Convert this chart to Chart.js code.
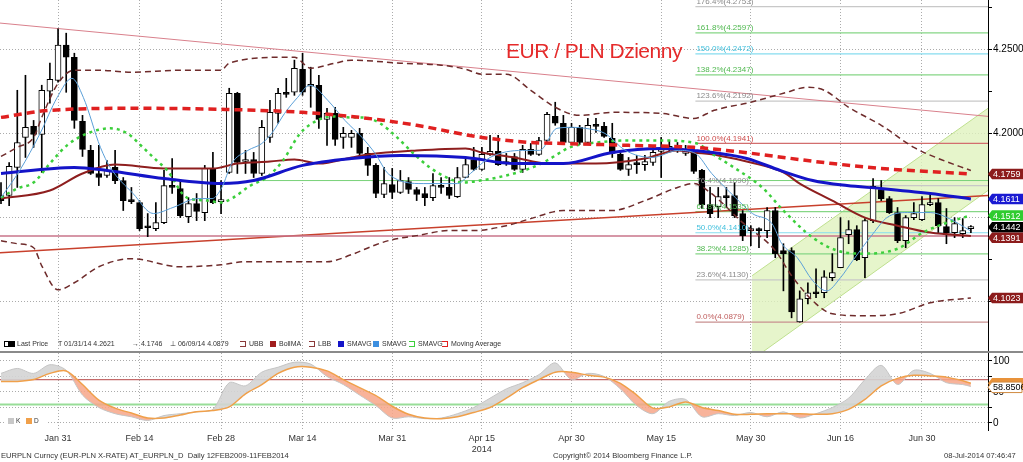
<!DOCTYPE html>
<html>
<head>
<meta charset="utf-8">
<script src="https://cdn.jsdelivr.net/npm/chart.js@4.4.1/dist/chart.umd.min.js"></script>
<style>
  body { margin: 0; background: #fff; width: 1023px; height: 462px; overflow: hidden; position: relative; font-family: 'Liberation Sans', Arial, sans-serif; }
  canvas { position: absolute; left: 0; }
  #main { top: 0; }
  #stoch { top: 353px; }
  .t { position: absolute; white-space: nowrap; }
  .sq { position: absolute; width: 6px; height: 6px; top: 4px; }
  #legend { position: absolute; left: 0; top: 337px; width: 1023px; height: 15px; font-size: 7px; color: #333; }
  #legend .t { top: 3px; }
  #sep { position: absolute; left: 0; top: 351px; width: 1023px; height: 2px; background: #8a8a8a; }
  #title { position: absolute; left: 506px; top: 40px; font-size: 21px; letter-spacing: -0.5px; color: #e52a2a; line-height: 21px; }
  #footer .t { top: 451px; font-size: 7.6px; color: #333; }
  #kd { position: absolute; left: 4px; top: 416px; height: 10px; width: 44px; background: #fff; font-size: 6.5px; color: #333; }
</style>
</head>
<body>
<canvas id="main" width="1023" height="352"></canvas>
<canvas id="stoch" width="1023" height="109"></canvas>
<div id="title">EUR / PLN Dzienny</div>
<div id="legend">
  <span class="sq" style="left:4px;border:1px solid #000;width:3px;height:4px;background:#fff"></span>
  <span class="sq" style="left:9px;background:#000"></span>
  <span class="t" style="left:17px">Last Price</span>
  <span class="t" style="left:58px">T 01/31/14 4.2621</span>
  <span class="t" style="left:132px">&#8594; 4.1746</span>
  <span class="t" style="left:170px">&#8869; 06/09/14 4.0879</span>
  <span class="sq" style="left:240px;width:5px;height:4px;border:1px dashed #8b3a3a;border-left:none"></span>
  <span class="t" style="left:249px">UBB</span>
  <span class="sq" style="left:270px;background:#a01c1c"></span>
  <span class="t" style="left:279px">BollMA</span>
  <span class="sq" style="left:309px;width:5px;height:4px;border:1px dashed #8b3a3a;border-left:none"></span>
  <span class="t" style="left:318px">LBB</span>
  <span class="sq" style="left:338px;background:#1414c8"></span>
  <span class="t" style="left:347px">SMAVG</span>
  <span class="sq" style="left:373px;background:#3d8fe0"></span>
  <span class="t" style="left:382px">SMAVG</span>
  <span class="sq" style="left:409px;width:5px;height:4px;border:1px dashed #3ccf3c;border-left:none"></span>
  <span class="t" style="left:418px">SMAVG</span>
  <span class="sq" style="left:442px;width:5px;height:4px;border:1px dashed #e02020;border-left:none"></span>
  <span class="t" style="left:451px">Moving Average</span>
</div>
<div id="sep"></div>
<div id="kd">
  <span class="sq" style="left:4px;top:2px;background:#c8c8c8"></span><span class="t" style="left:12px;top:1px">K</span>
  <span class="sq" style="left:22px;top:2px;background:#f0a04a"></span><span class="t" style="left:30px;top:1px">D</span>
</div>
<div id="footer">
  <span class="t" style="left:1px">EURPLN Curncy (EUR-PLN X-RATE) AT_EURPLN_D&nbsp; Daily 12FEB2009-11FEB2014</span>
  <span class="t" style="left:553px">Copyright&copy; 2014 Bloomberg Finance L.P.</span>
  <span class="t" style="left:944px">08-Jul-2014 07:46:47</span>
</div>
<script>
// trading-day index 0 = 22 Jan 2014 ... 119 = 8 Jul 2014
const tickIdx = [7, 17, 27, 37, 48, 59, 70, 81, 92, 103, 113];
const tickLabels = ['Jan 31', 'Feb 14', 'Feb 28', 'Mar 14', 'Mar 31', ['Apr 15', '2014'], 'Apr 30', 'May 15', 'May 30', 'Jun 16', 'Jun 30'];

const open = [4.1631,4.1631,4.1798,4.1976,4.2042,4.1994,4.2250,4.2315,4.2524,4.2452,
  4.2071,4.1899,4.1762,4.1750,4.1798,4.1720,4.1605,4.1589,4.1447,4.1435,
  4.1470,4.1690,4.1673,4.1506,4.1583,4.1530,4.1792,4.1595,4.1768,4.2238,
  4.1833,4.1845,4.1762,4.1976,4.2119,4.2240,4.2244,4.2381,4.2280,4.2286,
  4.2083,4.2119,4.1976,4.1976,4.2000,4.1881,4.1810,4.1637,4.1696,4.1649,
  4.1714,4.1667,4.1643,4.1619,4.1690,4.1679,4.1625,4.1738,4.1845,4.1786,
  4.1875,4.1893,4.1827,4.1863,4.1786,4.1905,4.1875,4.1958,4.2101,4.2060,
  4.1946,4.2036,4.1946,4.2048,4.2042,4.1970,4.1875,4.1786,4.1821,4.1815,
  4.1827,4.1893,4.1911,4.1911,4.1881,4.1887,4.1780,4.1577,4.1565,4.1625,
  4.1631,4.1524,4.1423,4.1429,4.1423,4.1542,4.1304,4.1304,4.0881,4.1018,
  4.1054,4.1054,4.1143,4.1202,4.1399,4.1429,4.1262,4.1482,4.1667,4.1613,
  4.1530,4.1363,4.1500,4.1488,4.1577,4.1589,4.1446,4.1411,4.1405,4.1435];
const high = [4.1708,4.1827,4.2256,4.2345,4.2077,4.2286,4.2417,4.2621,4.2595,4.2476,
  4.2107,4.1929,4.1929,4.1839,4.1899,4.1738,4.1679,4.1601,4.1524,4.1589,
  4.1780,4.1851,4.1720,4.1619,4.1643,4.1810,4.1887,4.1720,4.2268,4.2244,
  4.1899,4.1887,4.2077,4.2196,4.2268,4.2327,4.2435,4.2476,4.2393,4.2345,
  4.2149,4.2155,4.2036,4.2018,4.2030,4.1917,4.1821,4.1798,4.1792,4.1780,
  4.1738,4.1679,4.1679,4.1762,4.1738,4.1738,4.1798,4.1857,4.1917,4.1917,
  4.1988,4.1988,4.1881,4.1881,4.1929,4.1940,4.1976,4.2125,4.2185,4.2107,
  4.2060,4.2048,4.2089,4.2089,4.2065,4.2060,4.1887,4.1857,4.1869,4.1869,
  4.1917,4.1976,4.1958,4.1946,4.1929,4.1911,4.1786,4.1679,4.1679,4.1679,
  4.1708,4.1542,4.1452,4.1440,4.1560,4.1560,4.1345,4.1321,4.1065,4.1113,
  4.1196,4.1185,4.1286,4.1500,4.1482,4.1452,4.1494,4.1732,4.1720,4.1625,
  4.1560,4.1512,4.1589,4.1625,4.1637,4.1613,4.1554,4.1500,4.1494,4.1452];
const low = [4.1583,4.1571,4.1679,4.1857,4.1917,4.1768,4.2179,4.2304,4.2244,4.2030,
  4.1863,4.1756,4.1690,4.1738,4.1702,4.1542,4.1583,4.1423,4.1387,4.1423,
  4.1464,4.1643,4.1500,4.1470,4.1482,4.1482,4.1583,4.1524,4.1762,4.1762,
  4.1762,4.1738,4.1750,4.1946,4.2060,4.2214,4.2226,4.2226,4.2155,4.2030,
  4.1929,4.1929,4.1911,4.1917,4.1857,4.1750,4.1619,4.1619,4.1613,4.1643,
  4.1643,4.1601,4.1571,4.1601,4.1643,4.1613,4.1619,4.1738,4.1780,4.1780,
  4.1869,4.1810,4.1810,4.1780,4.1768,4.1869,4.1869,4.1940,4.2048,4.1940,
  4.1940,4.1934,4.1934,4.2006,4.1976,4.1857,4.1780,4.1750,4.1762,4.1780,
  4.1810,4.1738,4.1887,4.1887,4.1869,4.1762,4.1554,4.1500,4.1500,4.1560,
  4.1500,4.1363,4.1333,4.1321,4.1381,4.1262,4.1065,4.0905,4.0879,4.0988,
  4.1024,4.1024,4.1125,4.1202,4.1345,4.1244,4.1143,4.1470,4.1601,4.1524,
  4.1351,4.1321,4.1488,4.1482,4.1571,4.1411,4.1345,4.1381,4.1381,4.1411];
const close = [4.1601,4.1804,4.1946,4.2036,4.1994,4.2256,4.2321,4.2524,4.2452,4.2077,
  4.1905,4.1762,4.1738,4.1780,4.1720,4.1601,4.1595,4.1435,4.1440,4.1470,
  4.1690,4.1679,4.1512,4.1583,4.1536,4.1792,4.1589,4.1601,4.2238,4.1827,
  4.1839,4.1762,4.2036,4.2125,4.2238,4.2232,4.2387,4.2244,4.2286,4.2083,
  4.2119,4.1964,4.2000,4.2000,4.1881,4.1810,4.1643,4.1702,4.1649,4.1720,
  4.1667,4.1637,4.1619,4.1690,4.1679,4.1631,4.1738,4.1815,4.1786,4.1875,
  4.1893,4.1815,4.1821,4.1786,4.1905,4.1875,4.1958,4.2113,4.2060,4.1946,
  4.2036,4.1946,4.2048,4.2042,4.1982,4.1881,4.1786,4.1815,4.1815,4.1833,
  4.1887,4.1911,4.1917,4.1899,4.1899,4.1774,4.1577,4.1524,4.1625,4.1619,
  4.1512,4.1393,4.1429,4.1423,4.1542,4.1286,4.1286,4.0940,4.1018,4.1054,
  4.1048,4.1149,4.1173,4.1381,4.1429,4.1250,4.1482,4.1685,4.1613,4.1530,
  4.1363,4.1500,4.1524,4.1577,4.1589,4.1452,4.1411,4.1464,4.1423,4.1442];

// studies, read at sample days
const movAvgIdx = [0, 6, 17, 27, 37, 44, 51, 59, 65, 69, 77, 85, 89, 102, 108, 119];
const movAvgVal = [4.2095, 4.2137, 4.2149, 4.2143, 4.2125, 4.2095, 4.2048, 4.1976, 4.1946, 4.1940, 4.1929, 4.1917, 4.1899, 4.1821, 4.1792, 4.1759];
const smaSlowIdx = [0, 9, 13, 20, 27, 31, 37, 43, 49, 57, 63, 69, 75, 81, 85, 91.5, 95.6, 99.6, 103.8, 107.9, 114, 119];
const smaSlowVal = [4.1762, 4.1798, 4.1780, 4.1732, 4.1702, 4.1720, 4.1810, 4.1851, 4.1869, 4.1857, 4.1821, 4.1821, 4.1887, 4.1911, 4.1899, 4.1851, 4.1780, 4.1720, 4.1690, 4.1673, 4.1643, 4.1611];
const bollMaIdx = [0, 6, 10, 14, 20, 26, 29, 33, 36, 39, 43, 45, 51, 57, 59, 63, 67, 73, 79, 83, 85, 88, 92, 96, 98, 102, 106, 110, 114, 119];
const bollMaVal = [4.1613, 4.1661, 4.1762, 4.1815, 4.1792, 4.1792, 4.1821, 4.1833, 4.1845, 4.1821, 4.1857, 4.1875, 4.1899, 4.1911, 4.1887, 4.1857, 4.1821, 4.1821, 4.1851, 4.1899, 4.1887, 4.1869, 4.1827, 4.1768, 4.1702, 4.1601, 4.1500, 4.1452, 4.1411, 4.1391];
const ubbIdx = [0, 2, 4, 5, 7, 9, 12, 16, 22, 27, 28, 35, 36, 38, 41, 43, 49, 54, 57, 59, 62, 65, 68, 71, 75, 81, 85, 87.5, 92, 96, 99, 101, 104, 108, 112, 115, 119];
const ubbVal = [4.1863, 4.1917, 4.1976, 4.2095, 4.2298, 4.2375, 4.2375, 4.2363, 4.2375, 4.2375, 4.2417, 4.2452, 4.2452, 4.2387, 4.2417, 4.2435, 4.2417, 4.2405, 4.2381, 4.2351, 4.2351, 4.2256, 4.2155, 4.2107, 4.2125, 4.2119, 4.2089, 4.2137, 4.2185, 4.2238, 4.2274, 4.2256, 4.2155, 4.2048, 4.1917, 4.1851, 4.1780];
const lbbIdx = [0, 2, 4, 5, 7, 9, 12, 16, 22, 27, 30, 35, 40, 43, 46, 48, 51, 55, 58, 62, 65, 69, 75, 79, 83, 85, 87, 91, 95, 97, 100, 102, 106, 110, 114, 119];
const lbbVal = [4.1363, 4.1345, 4.1321, 4.1214, 4.1071, 4.1113, 4.1208, 4.1256, 4.1208, 4.1220, 4.1238, 4.1238, 4.1238, 4.1280, 4.1339, 4.1369, 4.1393, 4.1423, 4.1423, 4.1452, 4.1494, 4.1542, 4.1542, 4.1601, 4.1679, 4.1702, 4.1649, 4.1470, 4.1304, 4.1155, 4.0988, 4.0929, 4.0917, 4.0929, 4.0994, 4.1023];
const smaFastIdx = [0, 2.3, 4.8, 6.9, 8.7, 10.1, 12.2, 13.4, 16.2, 18.7, 21.1, 24.1, 25.9, 27.1, 28.3, 30.3, 32, 33.3, 34.8, 36.4, 37.9, 40.1, 42.2, 44.3, 45.9, 47.6, 51.8, 56, 57.6, 60, 64, 66.1, 68.2, 70.2, 71.7, 74.1, 76.6, 79.9, 83.1, 85.2, 87.2, 90.1, 92.2, 94.6, 95.8, 97.7, 99.6, 101.3, 103, 104.5, 107, 108.7, 111.2, 114, 116.1, 118.9];
const smaFastVal = [4.1619, 4.1780, 4.2000, 4.2214, 4.2327, 4.2214, 4.1917, 4.1798, 4.1643, 4.1524, 4.1560, 4.1613, 4.1613, 4.1679, 4.1821, 4.1899, 4.1940, 4.2006, 4.2119, 4.2214, 4.2286, 4.2196, 4.2077, 4.1976, 4.1881, 4.1756, 4.1702, 4.1702, 4.1762, 4.1857, 4.1899, 4.1899, 4.2030, 4.2036, 4.2030, 4.2000, 4.1899, 4.1857, 4.1899, 4.1881, 4.1762, 4.1619, 4.1524, 4.1464, 4.1345, 4.1262, 4.1125, 4.1065, 4.1143, 4.1244, 4.1405, 4.1500, 4.1530, 4.1530, 4.1500, 4.1423];
const smaMidIdx = [0, 2, 4, 6, 8.1, 10.6, 13.4, 15.5, 17.4, 19.1, 20.4, 22.8, 25.3, 26.9, 28.5, 30.6, 32.6, 34.6, 36.7, 38.8, 40.7, 42.8, 44.4, 46.5, 48.6, 50.6, 52.6, 54.7, 56.7, 58.8, 60.9, 64.9, 67, 69.8, 73.1, 77.2, 81.2, 85.4, 87.2, 90.1, 93.4, 96, 99.6, 102.6, 105.8, 110, 113.1, 116.1, 118.9];
const smaMidVal = [4.1619, 4.1673, 4.1708, 4.1821, 4.1929, 4.2000, 4.2030, 4.2000, 4.1917, 4.1839, 4.1780, 4.1619, 4.1601, 4.1589, 4.1619, 4.1690, 4.1738, 4.1839, 4.2000, 4.2077, 4.2101, 4.2095, 4.2095, 4.2060, 4.1976, 4.1881, 4.1798, 4.1738, 4.1708, 4.1720, 4.1738, 4.1792, 4.1839, 4.1917, 4.1946, 4.1958, 4.1958, 4.1940, 4.1881, 4.1792, 4.1679, 4.1542, 4.1381, 4.1304, 4.1286, 4.1315, 4.1411, 4.1470, 4.1512];

// drawn lines and the channel, in [day index, price]
const trendDown = [[-0.123, 4.2655], [121.1, 4.2101]];
const trendUp = [[-0.123, 4.1292], [121.1, 4.1631]];
const support = [[-0.123, 4.1391], [121.1, 4.1391]];
const resist = [[31, 4.1720], [121.1, 4.1720]];
const channel = [[92.15, 4.0702], [92.15, 4.1155], [121.1, 4.2149], [121.1, 4.1661], [93.45, 4.0702]];
const channelTop = [[92.15, 4.1155], [121.1, 4.2149]];
const channelBottom = [[93.45, 4.0702], [121.1, 4.1661]];

const fibStart = 85.2;
const fibLevels = [4.0879, 4.1130, 4.1285, 4.1410, 4.1535, 4.1690, 4.1941, 4.2192, 4.2347, 4.2472, 4.2597, 4.2753];
const fibLabels = ['0.0%(4.0879)', '23.6%(4.1130)', '38.2%(4.1285)', '50.0%(4.1410)', '61.8%(4.1535)', '76.4%(4.1690)',
  '100.0%(4.1941)', '123.6%(4.2192)', '138.2%(4.2347)', '150.0%(4.2472)', '161.8%(4.2597)', '176.4%(4.2753)'];

// stochastic
const stochIdx = [0,2,4,6,8,10,12,14,16,18,20,22,24,26,28,30,32,34,36,38,40,42,44,46,48,50,52,54,56,58,
  60,62,64,66,68,70,72,74,76,78,80,82,84,86,88,90,92,94,96,98,100,102,104,106,108,110,112,114,116,118,119];
const stochK = [80,88,80,94,85,45,25,15,10,4,12,15,18,22,65,60,82,90,98,95,75,62,45,28,8,10,7,8,15,25,
  40,55,65,78,97,70,80,75,55,28,15,35,38,10,15,12,17,10,18,8,15,25,40,70,93,62,85,80,65,62,58.8506];
const stochD = [67,67,70,80,84,62,37,24,16,8,8,13,18,20,26,47,62,80,90,90,84,70,57,44,27,14,8,7,10,17,
  25,40,57,70,82,82,77,74,64,45,24,26,34,25,20,14,14,15,15,15,14,15,22,38,60,72,77,76,74,68,64];

// styles
const fibLine = ['#c89090', '#c8c8c8', '#86d686', '#86dcef', '#86d686', '#c8c8c8', '#d26e6e', '#c8c8c8', '#86d686', '#86dcef', '#86d686', '#c8c8c8'];
const fibText = ['#c06060', '#8a8a8a', '#4fb84f', '#3fbfdc', '#4fb84f', '#8a8a8a', '#cc4a4a', '#8a8a8a', '#4fb84f', '#3fbfdc', '#4fb84f', '#8a8a8a'];

const xMin = -0.123, xMax = 121.1;
Chart.defaults.font.family = "'Liberation Sans', Arial, sans-serif";
Chart.defaults.animation = false;

const pts = (xs, ys) => xs.map((x, k) => ({ x, y: ys[k] }));
const pairs = arr => arr.map(p => ({ x: p[0], y: p[1] }));

function line(data, color, width, dash, order, extra) {
    return Object.assign({
        type: 'line', data, borderColor: color, borderWidth: width, borderDash: dash || [],
        pointRadius: 0, fill: false, tension: 0, order
    }, extra || {});
}
const smooth = { cubicInterpolationMode: 'monotone' };

function noPad(s) {
    s.paddingTop = 0; s.paddingBottom = 0; s.paddingLeft = 0; s.paddingRight = 0;
}

function xAxis(showLabels) {
    return {
        type: 'linear', min: xMin, max: xMax, offset: false,
        afterBuildTicks: s => { s.ticks = tickIdx.map(v => ({ value: v })); },
        afterFit: s => { s.height = showLabels ? 32 : 0; noPad(s); },
        grid: { color: '#ababab', drawTicks: false, offset: false },
        border: { display: false, dash: [1, 2] },
        ticks: {
            display: showLabels, autoSkip: false, maxRotation: 0, padding: 3, color: '#333',
            font: { size: 9 }, callback: v => tickLabels[tickIdx.indexOf(v)]
        }
    };
}

function tag(ctx, tip, right, cy, h, bg, fg, border, text) {
    const top = cy - h / 2;
    ctx.beginPath();
    ctx.moveTo(tip, cy);
    ctx.lineTo(tip + 4, top);
    ctx.lineTo(right, top);
    ctx.lineTo(right, top + h);
    ctx.lineTo(tip + 4, top + h);
    ctx.closePath();
    ctx.fillStyle = bg;
    ctx.fill();
    if (border) { ctx.strokeStyle = border; ctx.lineWidth = 1; ctx.stroke(); }
    ctx.fillStyle = fg;
    ctx.font = "9px 'Liberation Sans'";
    ctx.textBaseline = 'middle';
    ctx.fillText(text, tip + 5, cy + 0.5);
}

const mainLabels = {
    id: 'mainLabels',
    afterDatasetsDraw(chart) {
        const { ctx, scales: { x, y } } = chart;
        ctx.save();
        ctx.font = "8px 'Liberation Sans'";
        ctx.textBaseline = 'bottom';
        fibLevels.forEach((lv, k) => {
            ctx.fillStyle = fibText[k];
            ctx.fillText(fibLabels[k], x.getPixelForValue(fibStart) + 1, y.getPixelForValue(lv) - 1);
        });
        ctx.restore();
    },
    afterDraw(chart) {
        const { ctx, chartArea, scales: { y } } = chart;
        const tags = [
            { v: movAvgVal[movAvgVal.length - 1], bg: '#8c1c1c', fg: '#fff' },
            { v: smaSlowVal[smaSlowVal.length - 1], bg: '#1a1ad2', fg: '#fff' },
            { v: smaMidVal[smaMidVal.length - 1], bg: '#2fcc2f', fg: '#fff' },
            { v: close[close.length - 1], bg: '#000', fg: '#fff' },
            { v: bollMaVal[bollMaVal.length - 1], bg: '#8c1c1c', fg: '#fff' },
            { v: lbbVal[lbbVal.length - 1], bg: '#8c1c1c', fg: '#fff' }
        ].sort((a, b) => b.v - a.v);
        ctx.save();
        let prevBottom = -Infinity;
        const h = 10.5;
        tags.forEach(t => {
            const cy = Math.max(y.getPixelForValue(t.v), prevBottom + h / 2);
            tag(ctx, chartArea.right, chart.width, cy, h, t.bg, t.fg, null, t.v.toFixed(4));
            prevBottom = cy + h / 2;
        });
        ctx.restore();
    }
};

const fibSets = fibLevels.map((lv, k) => line(pairs([[fibStart, lv], [xMax, lv]]), fibLine[k], 1.2, [], 28));

new Chart(document.getElementById('main'), {
    type: 'line',
    data: {
        datasets: [
            line(pairs(channel), 'rgba(0,0,0,0)', 0, [], 30, { fill: 'shape', backgroundColor: 'rgba(224,243,190,0.8)' }),
            line(pairs(channelTop), '#bfe08f', 1, [], 29),
            line(pairs(channelBottom), '#bfe08f', 1, [], 29),
            ...fibSets,
            line(pairs(trendDown), '#d9808c', 1, [], 27),
            line(pairs(support), '#c8748a', 1.5, [], 27),
            line(pairs(resist), '#79d279', 1, [], 27),
            line(pairs(trendUp), '#c8402c', 1.5, [], 27),
            {
                type: 'bar', order: 6, grouped: false, barThickness: 1,
                data: open.map((o, i) => ({ x: i, y: [low[i], high[i]] })),
                backgroundColor: '#000', borderWidth: 0
            },
            {
                type: 'bar', order: 5, grouped: false, barThickness: 6, minBarLength: 2,
                data: open.map((o, i) => ({ x: i, y: [Math.min(o, close[i]), Math.max(o, close[i])] })),
                backgroundColor: open.map((o, i) => close[i] >= o ? '#ffffff' : '#000000'),
                borderColor: '#000', borderWidth: 1, borderSkipped: false
            },
            line(pts(ubbIdx, ubbVal), '#6e2b2b', 1.5, [6, 4], 4, smooth),
            line(pts(lbbIdx, lbbVal), '#6e2b2b', 1.5, [6, 4], 4, smooth),
            line(pts(bollMaIdx, bollMaVal), '#8e1e1e', 2, [], 3, smooth),
            line(pts(smaSlowIdx, smaSlowVal), '#1414c8', 3, [], 2, smooth),
            line(pts(smaMidIdx, smaMidVal), '#3ccf3c', 2.5, [3, 4], 2, smooth),
            line(pts(smaFastIdx, smaFastVal), '#5a9fd8', 1, [], 1, smooth),
            line(pts(movAvgIdx, movAvgVal), '#e02020', 3.5, [8, 5], 0, smooth)
        ]
    },
    options: {
        responsive: false, devicePixelRatio: 1,
        layout: { padding: 0 },
        plugins: { legend: { display: false }, tooltip: { enabled: false } },
        scales: {
            x: xAxis(false),
            y: {
                position: 'right', min: 4.0702, max: 4.2792,
                afterBuildTicks: s => { s.ticks = [4.100, 4.125, 4.150, 4.175, 4.200, 4.225, 4.250, 4.275].map(v => ({ value: v })); },
                afterFit: s => { s.width = 35; noPad(s); },
                grid: {
                    color: c => (c.tick && Math.abs(c.tick.value * 20 - Math.round(c.tick.value * 20)) < 1e-6) ? '#ababab' : 'rgba(0,0,0,0)',
                    tickColor: '#000', tickLength: 4
                },
                border: { display: true, color: '#000', dash: [1, 2] },
                ticks: {
                    padding: 1, color: '#000', font: { size: 10 },
                    callback: v => (Math.abs(v - 4.25) < 1e-6 || Math.abs(v - 4.2) < 1e-6) ? v.toFixed(4) : ''
                }
            }
        }
    },
    plugins: [mainLabels]
});

const stochLabels = {
    id: 'stochLabels',
    afterDraw(chart) {
        const { ctx, chartArea, scales: { y } } = chart;
        ctx.save();
        const d = stochD[stochD.length - 1], k = stochK[stochK.length - 1];
        const dy = y.getPixelForValue(d);
        tag(ctx, chartArea.right, chart.width, dy, 10.5, '#e8923a', '#e8923a', null, '');
        const ky = Math.max(y.getPixelForValue(k), dy + 4);
        tag(ctx, chartArea.right, chart.width - 1, ky, 10.5, '#fff', '#000', '#d08a40', k.toFixed(4));
        ctx.restore();
    }
};

new Chart(document.getElementById('stoch'), {
    type: 'line',
    data: {
        datasets: [
            line(pts(stochIdx, stochK), '#c4c4c4', 1, [], 2, {
                tension: 0.3,
                fill: { target: 1, above: 'rgba(212,212,212,0.9)', below: 'rgba(247,166,136,0.85)' }
            }),
            line(pts(stochIdx, stochD), '#f0a04a', 1.5, [], 1, { tension: 0.3 }),
            line(pairs([[xMin, 70], [xMax, 70]]), '#c46a6a', 1.2, [], 3),
            line(pairs([[xMin, 30], [xMax, 30]]), '#98dd98', 2, [], 3)
        ]
    },
    options: {
        responsive: false, devicePixelRatio: 1,
        layout: { padding: 0 },
        plugins: { legend: { display: false }, tooltip: { enabled: false } },
        scales: {
            x: xAxis(true),
            y: {
                position: 'right', min: -11.3, max: 112.9,
                afterBuildTicks: s => { s.ticks = [0, 25, 50, 75, 100].map(v => ({ value: v })); },
                afterFit: s => { s.width = 35; noPad(s); },
                grid: { color: '#ababab', tickColor: '#000', tickLength: 4 },
                border: { display: true, color: '#000', dash: [1, 2] },
                ticks: {
                    padding: 1, color: '#000', font: { size: 10 },
                    callback: v => (v % 50 === 0) ? String(v) : ''
                }
            }
        }
    },
    plugins: [stochLabels]
});
</script>
</body>
</html>
